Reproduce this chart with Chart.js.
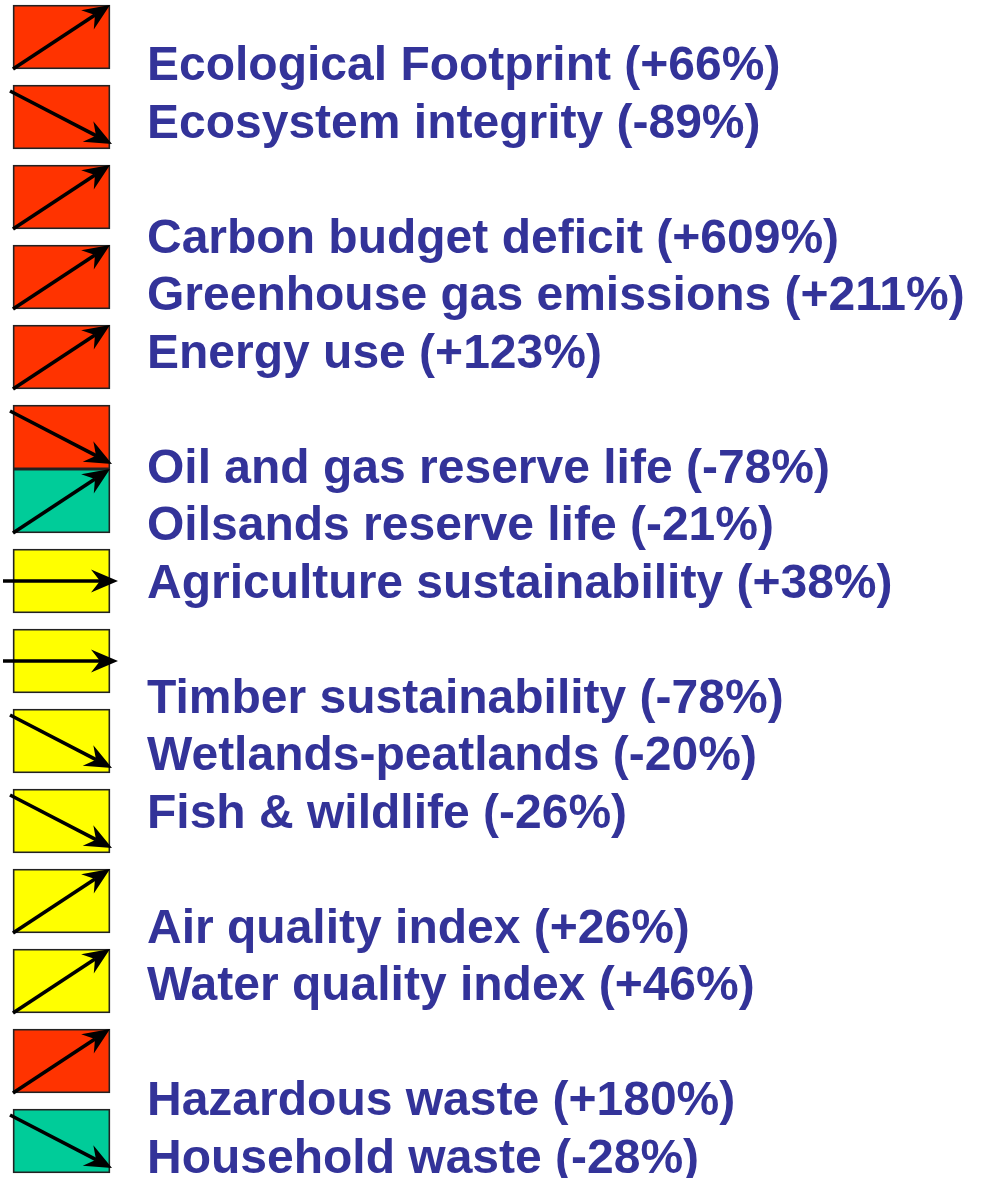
<!DOCTYPE html>
<html>
<head>
<meta charset="utf-8">
<script src="https://cdn.jsdelivr.net/npm/chart.js@4.4.1/dist/chart.umd.min.js"></script>
<style>
  html, body { margin:0; padding:0; background:#fff; }
  #wrap { width:981px; height:1178px; }
</style>
</head>
<body>
<div id="wrap"><canvas id="chart" width="981" height="1178"></canvas></div>
<script>
// ======= DATA =======
const indicators = ["Ecological Footprint","Ecosystem integrity","Carbon budget deficit","Greenhouse gas emissions","Energy use",
  "Oil and gas reserve life","Oilsands reserve life","Agriculture sustainability","Timber sustainability","Wetlands-peatlands",
  "Fish & wildlife","Air quality index","Water quality index","Hazardous waste","Household waste"];
const changePct = [66,-89,609,211,123,-78,-21,38,-78,-20,-26,26,46,180,-28];
const status = ["poor","poor","poor","poor","poor","poor","good","fair","fair","fair","fair","fair","fair","poor","good"];
const trend = ["up","down","up","up","up","down","up","flat","flat","down","down","up","up","up","down"];
const groupSizes = [2,3,3,3,2,2];
const joinedToPrev = [6]; // oilsands box sits flush under oil & gas

// ======= CONFIG =======
const statusColor = { poor:"#FF3300", fair:"#FFFF00", good:"#00CC99" };
const TEXT_COLOR = "#333399";
const FONT = "bold 48px 'Liberation Sans', Arial, sans-serif";
const BOX_L = 13, BOX_R = 110, TEXT_X = 147;

// box rows (1 per box, joined boxes touch the one above)
const boxRows = [];
let r = 0;
indicators.forEach((n,i) => {
  if(i > 0) r += joinedToPrev.includes(i) ? 0.8 : 1;
  boxRows.push(r);
});

// text line slots, one blank line between groups
const lineSlots = [];
let slot = 0;
groupSizes.forEach(g => {
  for(let j=0;j<g;j++){ lineSlots.push(slot); slot++; }
  slot++;
});

function labelFor(i){
  const c = changePct[i];
  return `${indicators[i]} (${c > 0 ? "+" : ""}${c}%)`;
}

// ======= ARROWS =======
function drawArrow(ctx, x1, y1, x2, y2){
  const a = Math.atan2(y2-y1, x2-x1);
  const headLen = 27, half = 11.5, notch = 18;
  ctx.save();
  ctx.strokeStyle = "#000"; ctx.fillStyle = "#000"; ctx.lineWidth = 3.6;
  ctx.beginPath();
  ctx.moveTo(x1, y1);
  ctx.lineTo(x2 - Math.cos(a)*notch, y2 - Math.sin(a)*notch);
  ctx.stroke();
  const bx = x2 - Math.cos(a)*headLen, by = y2 - Math.sin(a)*headLen;
  const px = -Math.sin(a)*half, py = Math.cos(a)*half;
  ctx.beginPath();
  ctx.moveTo(x2, y2);
  ctx.lineTo(bx + px, by + py);
  ctx.lineTo(x2 - Math.cos(a)*notch, y2 - Math.sin(a)*notch);
  ctx.lineTo(bx - px, by - py);
  ctx.closePath();
  ctx.fill();
  ctx.restore();
}

const trendPlugin = {
  id: "trendArrows",
  afterDatasetsDraw(chart){
    const ctx = chart.ctx;
    const meta = chart.getDatasetMeta(0);
    meta.data.forEach((bar, i) => {
      const p = bar.getProps(["x","y","base","height"], true);
      const left = Math.min(p.x, p.base), right = Math.max(p.x, p.base);
      const top = p.y - p.height/2, bottom = p.y + p.height/2;
      if(trend[i] === "up") drawArrow(ctx, left, bottom, right, top);
      else if(trend[i] === "down") drawArrow(ctx, left-3, top+6, right+2, bottom-5);
      else drawArrow(ctx, left-10, p.y, right+8, p.y);
    });
  }
};

const labelPlugin = {
  id: "indicatorLabels",
  afterDraw(chart){
    const ctx = chart.ctx;
    const xs = chart.scales.x, ys = chart.scales.yText;
    ctx.save();
    ctx.font = FONT; ctx.fillStyle = TEXT_COLOR;
    ctx.textAlign = "left"; ctx.textBaseline = "alphabetic";
    indicators.forEach((n,i) => {
      ctx.fillText(labelFor(i), xs.getPixelForValue(TEXT_X), ys.getPixelForValue(lineSlots[i]));
    });
    ctx.restore();
  }
};

// ======= CHART =======
new Chart(document.getElementById("chart"), {
  type: "bar",
  data: {
    datasets: [{
      data: boxRows.map((row,i) => ({ x: [BOX_L, BOX_R], y: row })),
      backgroundColor: status.map(s => statusColor[s]),
      borderColor: "#222",
      borderWidth: 1.8,
      borderSkipped: false,
      barThickness: 64,
      xAxisID: "x",
      yAxisID: "yBox"
    }]
  },
  options: {
    indexAxis: "y",
    responsive: false,
    maintainAspectRatio: false,
    animation: false,
    layout: { padding: 0 },
    plugins: { legend: { display:false }, tooltip: { enabled:false } },
    scales: {
      x: { type:"linear", display:false, bounds:"data", offset:false, grace:0, min:0, max:981 },
      yBox: { type:"linear", display:false, bounds:"data", offset:false, grace:0, reverse:true, min:-0.4625, max:14.2625 },
      yText: { type:"linear", display:false, bounds:"data", offset:false, grace:0, reverse:true, min:-1.4, max:19.087 }
    }
  },
  plugins: [trendPlugin, labelPlugin]
});
</script>
</body>
</html>
